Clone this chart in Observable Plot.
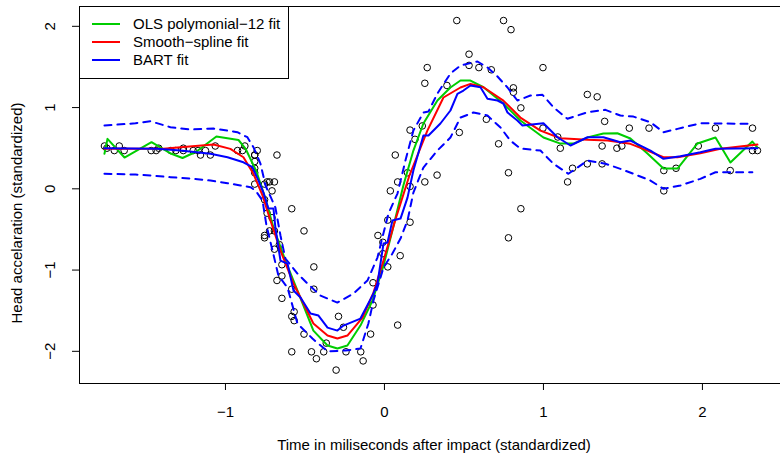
<!DOCTYPE html>
<html><head><meta charset="utf-8">
<script src="https://cdn.jsdelivr.net/npm/d3@7"></script>
<script src="https://cdn.jsdelivr.net/npm/@observablehq/plot@0.6"></script>
<style>
body{margin:0;background:#fff;font-family:"Liberation Sans",Arial,sans-serif;}
#wrap{position:relative;width:780px;height:457px;}
#legend{position:absolute;left:79px;top:6px;width:208px;height:71px;border:1px solid #000;background:#fff;}
#legend .row{position:absolute;left:0;height:18px;line-height:18px;font-size:15px;white-space:nowrap;color:#000;}
#legend svg{position:absolute;left:12px;top:8px;}
#legend span{position:absolute;left:53px;top:0;}
</style></head>
<body><div id="wrap"></div>
<script>
// Observed points (standardized time, standardized acceleration)
const pointX = [-1.761,-1.746,-1.699,-1.668,-1.637,-1.467,-1.436,-1.420,-1.343,-1.312,-1.265,-1.265,-1.203,-1.172,-1.157,-1.126,-1.095,-1.064,-0.924,-0.893,-0.878,
 -0.816,-0.816,-0.816,-0.816,-0.816,-0.816,-0.800,-0.754,-0.754,-0.754,-0.754,-0.738,-0.738,-0.723,-0.723,-0.707,-0.707,-0.692,-0.692,-0.692,-0.676,-0.676,-0.661,
 -0.645,-0.645,-0.645,-0.583,-0.583,-0.583,-0.583,-0.568,-0.568,-0.506,-0.506,-0.459,-0.444,-0.444,-0.428,-0.382,-0.366,-0.304,-0.289,-0.258,-0.242,-0.149,-0.134,
 -0.087,-0.072,-0.072,-0.041,-0.010,-0.010,0.021,0.021,0.037,0.068,0.083,0.083,0.099,0.145,0.161,0.161,0.161,0.192,0.238,0.254,0.254,0.269,0.331,0.393,0.455,
 0.471,0.532,0.532,0.594,0.641,0.672,0.718,0.749,0.780,0.780,0.796,0.811,0.811,0.858,0.858,0.997,0.997,1.090,1.106,1.152,1.183,1.276,1.276,1.338,1.369,1.369,
 1.385,1.462,1.493,1.540,1.664,1.757,1.757,1.834,1.974,2.082,2.175,2.315,2.315,2.346];
const pointY = [0.527,0.500,0.471,0.527,0.471,0.471,0.471,0.500,0.471,0.471,0.500,0.471,0.471,0.471,0.416,0.471,0.416,0.527,0.471,0.471,0.527,
 0.253,0.416,0.416,0.336,0.198,0.058,0.471,0.058,-0.134,-0.574,-0.603,-0.300,0.085,0.085,-0.518,-0.356,-0.025,0.085,-0.518,-0.743,0.416,-1.128,-0.687,
 -0.934,-1.348,-1.072,-0.245,-1.235,-2.006,-1.570,-1.513,-1.622,-1.788,-0.518,-2.006,-1.235,-0.961,-2.091,-2.006,-1.899,-2.231,-1.570,-1.704,-2.006,-2.006,-2.118,
 -1.788,-1.430,-1.156,-0.574,-0.798,-0.658,-0.961,-0.385,-0.025,0.416,-1.677,0.085,-0.823,0.198,-0.411,0.029,0.723,0.609,0.774,0.085,1.299,1.492,0.169,1.272,2.071,
 0.694,1.657,1.519,1.492,0.856,1.465,0.554,2.071,0.198,-0.603,1.959,1.243,1.188,-0.245,0.996,1.492,0.747,0.638,0.500,0.085,0.253,1.161,0.307,1.132,0.527,0.307,
 0.830,0.500,0.527,0.747,0.747,-0.025,0.225,0.253,0.527,0.747,0.225,0.471,0.747,0.471];

// OLS polynomial-12 fit
const olsX = [-1.761,-1.742,-1.635,-1.465,-1.340,-1.270,-1.182,-1.057,-0.918,-0.874,-0.805,-0.755,-0.698,-0.623,-0.547,-0.447,-0.358,-0.296,-0.233,-0.151,-0.075,-0.006,0.050,0.119,0.182,0.245,0.333,0.415,0.478,0.541,0.623,0.748,0.855,1.000,1.107,1.189,1.277,1.377,1.465,1.547,1.654,1.755,1.843,1.969,2.082,2.176,2.314,2.346];
const olsY = [0.431,0.615,0.385,0.574,0.431,0.379,0.459,0.644,0.601,0.496,0.213,-0.082,-0.477,-0.883,-1.252,-1.745,-1.929,-1.966,-1.929,-1.683,-1.375,-0.945,-0.514,0.041,0.471,0.804,1.087,1.247,1.333,1.333,1.250,1.050,0.841,0.631,0.557,0.557,0.631,0.680,0.684,0.619,0.434,0.250,0.250,0.558,0.631,0.324,0.582,0.508];

// Smoothing-spline fit
const splX = [-1.761,-1.390,-1.283,-1.075,-0.969,-0.887,-0.824,-0.767,-0.717,-0.654,-0.572,-0.447,-0.358,-0.296,-0.233,-0.138,-0.069,-0.006,0.069,0.157,0.270,0.371,0.478,0.541,0.623,0.748,0.855,0.981,1.107,1.277,1.403,1.547,1.654,1.755,1.843,1.987,2.113,2.346];
const splY = [0.492,0.492,0.512,0.545,0.492,0.389,0.185,-0.082,-0.390,-0.760,-1.166,-1.658,-1.806,-1.843,-1.806,-1.585,-1.277,-0.883,-0.379,0.164,0.717,1.124,1.247,1.292,1.250,1.086,0.877,0.717,0.623,0.603,0.594,0.554,0.471,0.389,0.389,0.438,0.492,0.545];

// BART fit and 95% band
const bartX = [-1.761,-1.428,-1.283,-1.094,-0.987,-0.887,-0.830,-0.792,-0.761,-0.730,-0.698,-0.686,-0.654,-0.610,-0.572,-0.528,-0.465,-0.415,-0.358,-0.296,-0.258,-0.151,-0.075,-0.044,-0.006,0.019,0.050,0.101,0.145,0.182,0.245,0.277,0.352,0.415,0.459,0.497,0.541,0.604,0.648,0.711,0.748,0.774,0.836,0.868,1.000,1.088,1.170,1.277,1.377,1.484,1.547,1.673,1.755,1.862,1.987,2.082,2.346];
const bartY = [0.500,0.492,0.471,0.431,0.389,0.327,0.266,0.102,-0.046,-0.243,-0.243,-0.477,-0.883,-0.920,-1.252,-1.338,-1.535,-1.560,-1.708,-1.745,-1.683,-1.597,-1.314,-1.166,-0.674,-0.662,-0.391,-0.366,-0.108,0.225,0.656,0.656,0.804,0.964,1.169,1.210,1.271,1.250,1.108,1.087,1.050,0.939,0.841,0.779,0.807,0.635,0.533,0.635,0.635,0.574,0.594,0.471,0.369,0.401,0.450,0.492,0.500];
const upperX = [-1.761,-1.566,-1.472,-1.346,-1.220,-1.075,-0.925,-0.862,-0.824,-0.780,-0.748,-0.686,-0.654,-0.623,-0.547,-0.484,-0.403,-0.296,-0.195,-0.107,-0.044,-0.013,0.025,0.082,0.132,0.182,0.245,0.277,0.333,0.415,0.478,0.585,0.648,0.711,0.774,0.836,0.918,0.994,1.063,1.151,1.277,1.390,1.484,1.566,1.673,1.755,1.843,1.987,2.314];
const upperY = [0.779,0.807,0.832,0.758,0.730,0.742,0.697,0.635,0.512,0.311,0.041,-0.230,-0.575,-0.858,-1.043,-1.166,-1.314,-1.400,-1.289,-1.129,-0.846,-0.600,-0.305,-0.058,0.348,0.717,0.939,0.951,1.173,1.419,1.518,1.567,1.493,1.382,1.247,1.087,1.148,1.157,1.004,0.862,0.943,0.972,0.902,0.889,0.820,0.697,0.738,0.807,0.800];
const lowerX = [-1.761,-1.566,-1.472,-1.346,-1.220,-1.094,-0.987,-0.906,-0.843,-0.811,-0.767,-0.742,-0.704,-0.667,-0.610,-0.547,-0.453,-0.358,-0.245,-0.151,-0.101,-0.069,-0.006,0.050,0.101,0.145,0.182,0.245,0.333,0.415,0.478,0.560,0.648,0.730,0.792,0.855,0.981,1.063,1.157,1.277,1.390,1.484,1.566,1.673,1.755,1.862,1.987,2.082,2.314];
const lowerY = [0.185,0.176,0.164,0.143,0.127,0.102,0.069,0.041,0.020,-0.021,-0.144,-0.452,-0.760,-1.068,-1.215,-1.658,-1.843,-2.000,-1.990,-1.966,-1.658,-1.375,-0.969,-0.797,-0.612,-0.391,-0.046,0.262,0.471,0.631,0.877,0.939,0.902,0.754,0.594,0.496,0.471,0.308,0.185,0.348,0.308,0.246,0.185,0.102,0.000,0.041,0.123,0.204,0.204];

const xTicks = [-1, 0, 1, 2];
const yTicks = [-2, -1, 0, 1, 2];
const xDomain = [-1.918, 2.491];
const yDomain = [-2.396, 2.244];
const seriesNames = ["OLS polymonial\u221212 fit", "Smooth\u2212spline fit", "BART fit"];
const seriesColors = ["#00cd00", "#ff0000", "#0000ff"];

const fmt = d => d < 0 ? "\u2212" + Math.abs(d) : String(d);
const rows = (xs, ys) => xs.map((x, i) => ({x, y: ys[i]}));
const pts = rows(pointX, pointY);

const chart = Plot.plot({
  width: 780, height: 457,
  marginLeft: 79, marginRight: 0, marginTop: 6, marginBottom: 74,
  x: {domain: xDomain},
  y: {domain: yDomain},
  style: {fontFamily: "Liberation Sans, Arial, sans-serif", fontSize: "15px", background: "#fff", color: "#000"},
  marks: [
    Plot.dot(pts, {x: "x", y: "y", r: 3.3, stroke: "#000", strokeWidth: 1, fill: "none"}),
    Plot.line(rows(olsX, olsY), {x: "x", y: "y", stroke: seriesColors[0], strokeWidth: 2}),
    Plot.line(rows(splX, splY), {x: "x", y: "y", stroke: seriesColors[1], strokeWidth: 2}),
    Plot.line(rows(bartX, bartY), {x: "x", y: "y", stroke: seriesColors[2], strokeWidth: 2}),
    Plot.line(rows(upperX, upperY), {x: "x", y: "y", stroke: seriesColors[2], strokeWidth: 2, strokeDasharray: "7,6"}),
    Plot.line(rows(lowerX, lowerY), {x: "x", y: "y", stroke: seriesColors[2], strokeWidth: 2, strokeDasharray: "7,6"}),
    Plot.ruleY([yDomain[0]], {stroke: "#000"}),
    Plot.ruleY([yDomain[1]], {stroke: "#000"}),
    Plot.ruleX([xDomain[0]], {stroke: "#000"}),
    Plot.axisX({ticks: xTicks, tickSize: 7, tickPadding: 16, tickFormat: fmt, fontSize: 15, label: null}),
    Plot.axisY({ticks: yTicks, tickSize: 7, tickFormat: () => "", label: null}),
    Plot.text(yTicks, {x: xDomain[0], y: d => d, text: fmt, rotate: -90, dx: -29, textAnchor: "middle", fontSize: 15}),
    Plot.text(["Time in miliseconds after impact (standardized)"], {frameAnchor: "bottom", dx: 4, dy: 66, fontSize: 15}),
    Plot.text(["Head accelaration (standardized)"], {frameAnchor: "left", dx: -62, dy: 18, rotate: -90, textAnchor: "middle", fontSize: 15})
  ]
});
const wrap = document.getElementById("wrap");
wrap.appendChild(chart);

const legend = document.createElement("div");
legend.id = "legend";
seriesNames.forEach((name, i) => {
  const row = document.createElement("div");
  row.className = "row";
  row.style.top = (8.3 + 18 * i) + "px";
  row.innerHTML = `<svg width="28" height="2"><line x1="0" x2="28" y1="1" y2="1" stroke="${seriesColors[i]}" stroke-width="2"/></svg><span>${name}</span>`;
  legend.appendChild(row);
});
wrap.appendChild(legend);
</script>
</body></html>
